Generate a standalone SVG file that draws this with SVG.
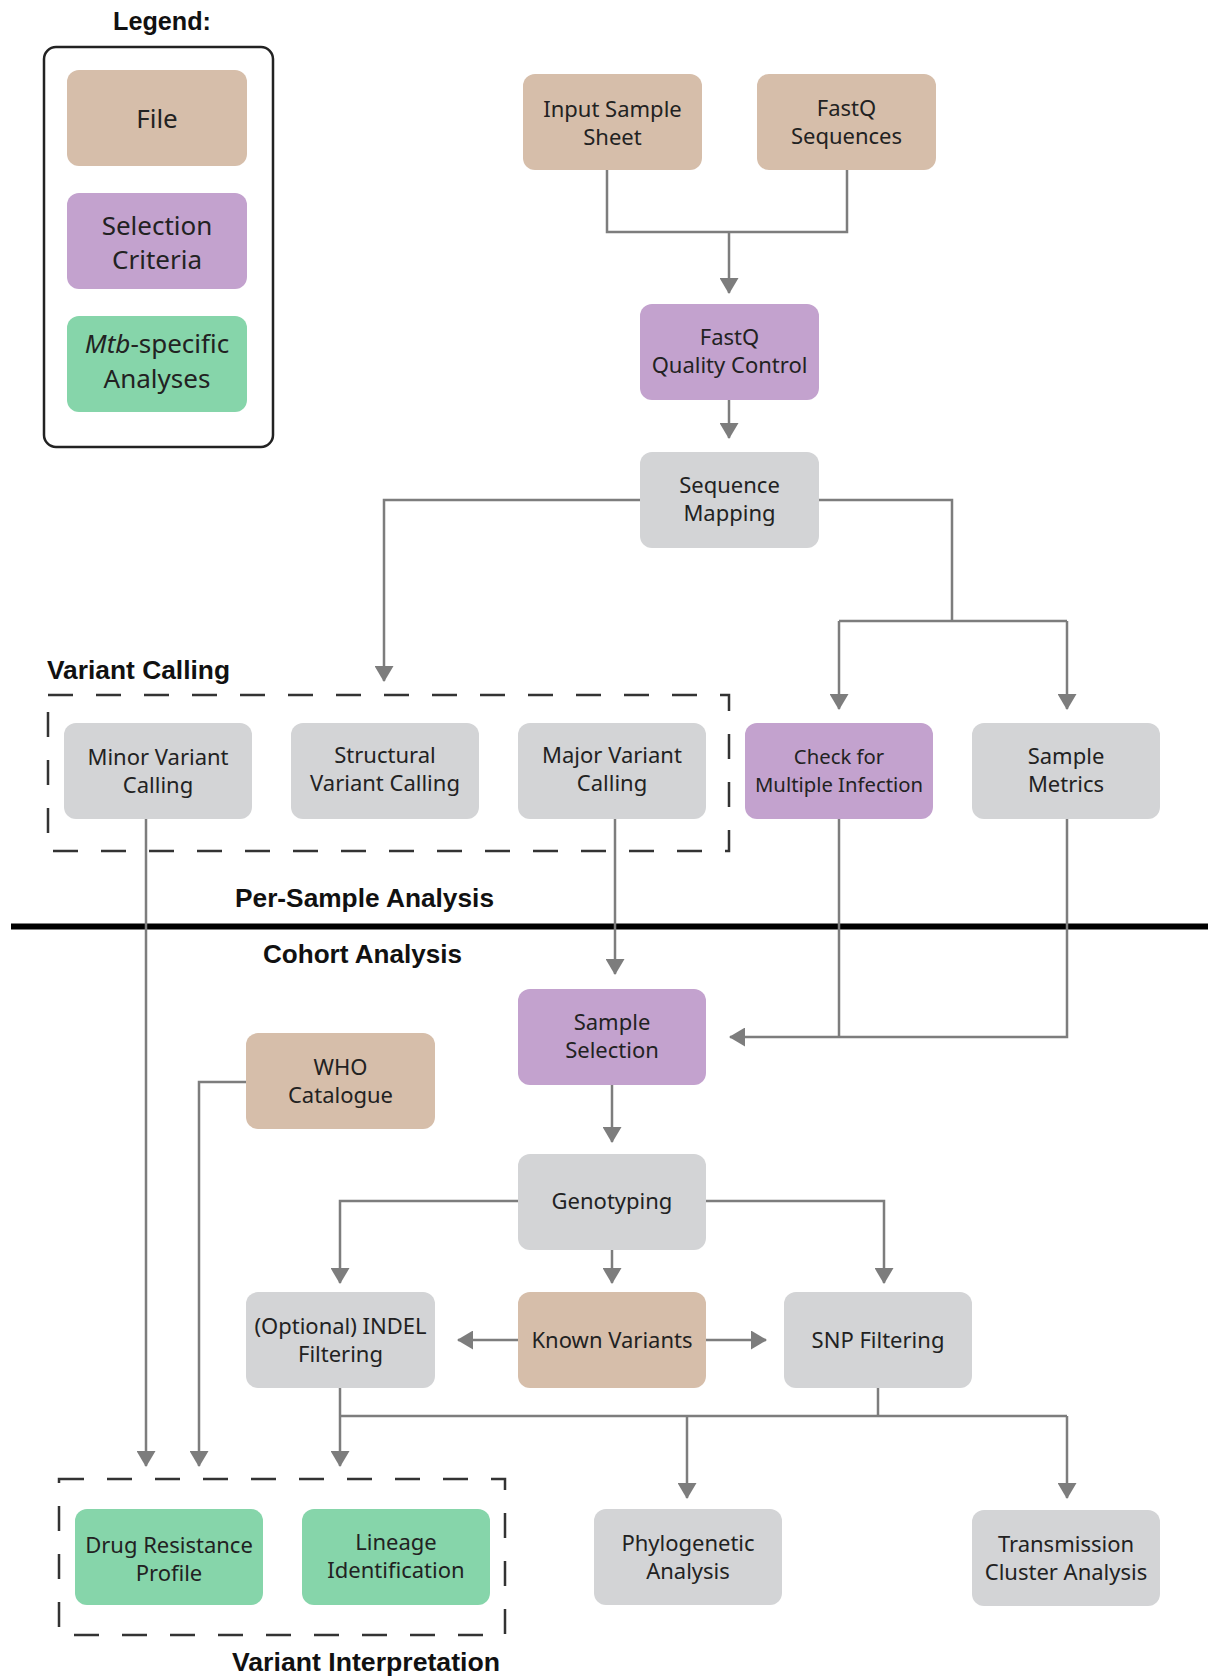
<svg xmlns="http://www.w3.org/2000/svg" width="1208" height="1676" viewBox="0 0 1208 1676">
<style>
.file{fill:#D6BEAA}
.sel{fill:#C3A2CE}
.mtb{fill:#86D5AA}
.proc{fill:#D3D4D6}
.t{font-family:"Noto Sans","Liberation Sans",sans-serif;font-size:22px;fill:#222;text-anchor:middle}
.t.sm{font-size:20.3px}
.lg{font-family:"Noto Sans","Liberation Sans",sans-serif;font-size:26px;fill:#222;text-anchor:middle}
.h{font-family:"Liberation Sans",Arial,sans-serif;font-size:25px;font-weight:bold;fill:#111}
.c{fill:none;stroke:#7d7d7d;stroke-width:2.5}
.dash{fill:none;stroke:#333;stroke-width:2.5;stroke-dasharray:25 23}
</style>
<defs>
<marker id="ah" markerUnits="userSpaceOnUse" viewBox="0 0 16 19" markerWidth="16" markerHeight="19" refX="15" refY="9.5" orient="auto">
<path d="M0,0 L16,9.5 L0,19 z" fill="#7d7d7d"/>
</marker>
</defs>
<rect width="1208" height="1676" fill="#fff"/>

<g id="legend">
<text class="h" x="162" y="30" text-anchor="middle" textLength="98" lengthAdjust="spacingAndGlyphs">Legend:</text>
<rect x="44" y="47" width="229" height="400" rx="12" fill="none" stroke="#222" stroke-width="2.5"/>
<g id="legend-file"><rect class="file" x="67" y="70" width="180" height="96" rx="12"/><text class="lg" x="157" y="128">File</text></g>
<g id="legend-sel"><rect class="sel" x="67" y="193" width="180" height="96" rx="12"/><text class="lg" x="157" y="235">Selection</text><text class="lg" x="157" y="269">Criteria</text></g>
<g id="legend-mtb"><rect class="mtb" x="67" y="316" width="180" height="96" rx="12"/><text class="lg" x="157" y="353"><tspan font-style="italic">Mtb</tspan>-specific</text><text class="lg" x="157" y="388">Analyses</text></g>
</g>

<g id="groups">
<rect class="dash" x="48" y="695" width="681" height="156"/>
<text class="h" x="47" y="679" textLength="183" lengthAdjust="spacingAndGlyphs">Variant Calling</text>
<text class="h" x="364.5" y="907" text-anchor="middle" textLength="259" lengthAdjust="spacingAndGlyphs">Per-Sample Analysis</text>
<line x1="11" y1="926.5" x2="1208" y2="926.5" stroke="#000" stroke-width="6"/>
<text class="h" x="362.5" y="963" text-anchor="middle" textLength="199" lengthAdjust="spacingAndGlyphs">Cohort Analysis</text>
<rect class="dash" x="59" y="1479" width="446" height="156"/>
<text class="h" x="366" y="1671" text-anchor="middle" textLength="268" lengthAdjust="spacingAndGlyphs">Variant Interpretation</text>
</g>

<g id="connectors">
<path class="c" d="M607,170 V232 H847 V170"/>
<path class="c" d="M729,232 V293" marker-end="url(#ah)"/>
<path class="c" d="M729,400 V438" marker-end="url(#ah)"/>
<path class="c" d="M640,500 H384 V681" marker-end="url(#ah)"/>
<path class="c" d="M819,500 H952 V621"/>
<path class="c" d="M839,621 H1067"/>
<path class="c" d="M839,621 V709" marker-end="url(#ah)"/>
<path class="c" d="M1067,621 V709" marker-end="url(#ah)"/>
<path class="c" d="M615,819 V974" marker-end="url(#ah)"/>
<path class="c" d="M839,818 V1037"/>
<path class="c" d="M1067,818 V1037 H730" marker-end="url(#ah)"/>
<path class="c" d="M146,819 V1466" marker-end="url(#ah)"/>
<path class="c" d="M246,1082 H199 V1466" marker-end="url(#ah)"/>
<path class="c" d="M612,1085 V1142" marker-end="url(#ah)"/>
<path class="c" d="M518,1201 H340 V1283" marker-end="url(#ah)"/>
<path class="c" d="M706,1201 H884 V1283" marker-end="url(#ah)"/>
<path class="c" d="M612,1250 V1283" marker-end="url(#ah)"/>
<path class="c" d="M518,1340 H458" marker-end="url(#ah)"/>
<path class="c" d="M706,1340 H766" marker-end="url(#ah)"/>
<path class="c" d="M340,1388 V1466" marker-end="url(#ah)"/>
<path class="c" d="M340,1416 H1067"/>
<path class="c" d="M878,1388 V1416"/>
<path class="c" d="M687,1416 V1498" marker-end="url(#ah)"/>
<path class="c" d="M1067,1416 V1498" marker-end="url(#ah)"/>
</g>

<g id="input-sample-sheet"><rect class="file" x="523" y="74" width="179" height="96" rx="12"/><text class="t" x="612.5" y="117">Input Sample</text><text class="t" x="612.5" y="145">Sheet</text></g>
<g id="fastq-sequences"><rect class="file" x="757" y="74" width="179" height="96" rx="12"/><text class="t" x="846.5" y="116">FastQ</text><text class="t" x="846.5" y="144">Sequences</text></g>
<g id="fastq-qc"><rect class="sel" x="640" y="304" width="179" height="96" rx="12"/><text class="t" x="729.5" y="345">FastQ</text><text class="t" x="729.5" y="373">Quality Control</text></g>
<g id="sequence-mapping"><rect class="proc" x="640" y="452" width="179" height="96" rx="12"/><text class="t" x="729.5" y="493">Sequence</text><text class="t" x="729.5" y="521">Mapping</text></g>

<g id="minor-variant"><rect class="proc" x="64" y="723" width="188" height="96" rx="12"/><text class="t" x="158" y="765">Minor Variant</text><text class="t" x="158" y="793">Calling</text></g>
<g id="structural-variant"><rect class="proc" x="291" y="723" width="188" height="96" rx="12"/><text class="t" x="385" y="763">Structural</text><text class="t" x="385" y="791">Variant Calling</text></g>
<g id="major-variant"><rect class="proc" x="518" y="723" width="188" height="96" rx="12"/><text class="t" x="612" y="763">Major Variant</text><text class="t" x="612" y="791">Calling</text></g>
<g id="multiple-infection"><rect class="sel" x="745" y="723" width="188" height="96" rx="12"/><text class="t sm" x="839" y="764">Check for</text><text class="t sm" x="839" y="792">Multiple Infection</text></g>
<g id="sample-metrics"><rect class="proc" x="972" y="723" width="188" height="96" rx="12"/><text class="t" x="1066" y="764">Sample</text><text class="t" x="1066" y="792">Metrics</text></g>

<g id="sample-selection"><rect class="sel" x="518" y="989" width="188" height="96" rx="12"/><text class="t" x="612" y="1030">Sample</text><text class="t" x="612" y="1058">Selection</text></g>
<g id="who-catalogue"><rect class="file" x="246" y="1033" width="189" height="96" rx="12"/><text class="t" x="340.5" y="1075">WHO</text><text class="t" x="340.5" y="1103">Catalogue</text></g>
<g id="genotyping"><rect class="proc" x="518" y="1154" width="188" height="96" rx="12"/><text class="t" x="612" y="1209">Genotyping</text></g>
<g id="indel-filtering"><rect class="proc" x="246" y="1292" width="189" height="96" rx="12"/><text class="t" x="340.5" y="1334">(Optional) INDEL</text><text class="t" x="340.5" y="1362">Filtering</text></g>
<g id="known-variants"><rect class="file" x="518" y="1292" width="188" height="96" rx="12"/><text class="t" x="612" y="1348">Known Variants</text></g>
<g id="snp-filtering"><rect class="proc" x="784" y="1292" width="188" height="96" rx="12"/><text class="t" x="878" y="1348">SNP Filtering</text></g>

<g id="drug-resistance"><rect class="mtb" x="75" y="1509" width="188" height="96" rx="12"/><text class="t" x="169" y="1553">Drug Resistance</text><text class="t" x="169" y="1581">Profile</text></g>
<g id="lineage"><rect class="mtb" x="302" y="1509" width="188" height="96" rx="12"/><text class="t" x="396" y="1550">Lineage</text><text class="t" x="396" y="1578">Identification</text></g>
<g id="phylogenetic"><rect class="proc" x="594" y="1509" width="188" height="96" rx="12"/><text class="t" x="688" y="1551">Phylogenetic</text><text class="t" x="688" y="1579">Analysis</text></g>
<g id="transmission"><rect class="proc" x="972" y="1510" width="188" height="96" rx="12"/><text class="t" x="1066" y="1552">Transmission</text><text class="t" x="1066" y="1580">Cluster Analysis</text></g>
</svg>
